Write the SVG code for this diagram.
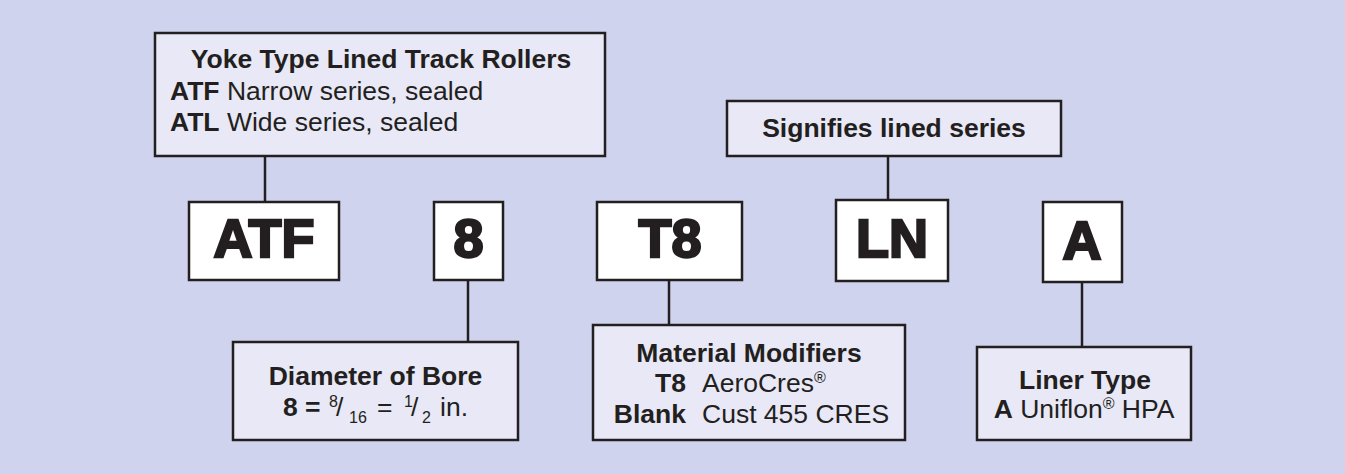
<svg xmlns="http://www.w3.org/2000/svg" width="1345" height="474" viewBox="0 0 1345 474">
<style>
.bg{fill:#cfd3ed}
.desc{fill:#e8e8f6;stroke:#231f20;stroke-width:2.5}
.code{fill:#ffffff;stroke:#231f20;stroke-width:2.5}
.conn line{stroke:#231f20;stroke-width:2.5}
text{font-family:"Liberation Sans",Arial,sans-serif;fill:#231f20;font-size:26.5px}
.b{font-weight:bold}
.big{font-weight:bold;font-size:54px;stroke:#231f20;stroke-width:2.4;text-anchor:middle}
.c{text-anchor:middle}
.r{text-anchor:end}
.sm{font-size:16px}
</style>
<rect class="bg" x="0" y="0" width="1345" height="474"/>
<g id="connectors" class="conn">
<line x1="265" y1="156" x2="265" y2="202"/>
<line x1="468" y1="280" x2="468" y2="342"/>
<line x1="669" y1="280" x2="669" y2="325"/>
<line x1="888" y1="156" x2="888" y2="200"/>
<line x1="1082" y1="282" x2="1082" y2="347"/>
</g>
<g id="yoke-type">
<rect class="desc" x="155" y="33" width="450" height="123"/>
<text class="b c" x="381" y="68">Yoke Type Lined Track Rollers</text>
<text x="170" y="100"><tspan class="b">ATF</tspan> Narrow series, sealed</text>
<text x="170" y="131"><tspan class="b">ATL</tspan> Wide series, sealed</text>
</g>
<g id="signifies">
<rect class="desc" x="727" y="101" width="334" height="55"/>
<text class="b c" x="894" y="137">Signifies lined series</text>
</g>
<g id="code-atf">
<rect class="code" x="189" y="202" width="150" height="78"/>
<text class="big" x="264" y="257">ATF</text>
</g>
<g id="code-8">
<rect class="code" x="434" y="202" width="69" height="78"/>
<text class="big" x="468.5" y="257">8</text>
</g>
<g id="code-t8">
<rect class="code" x="597" y="202" width="145" height="78"/>
<text class="big" x="670" y="257">T8</text>
</g>
<g id="code-ln">
<rect class="code" x="836" y="200" width="112" height="81"/>
<text class="big" x="892" y="257">LN</text>
</g>
<g id="code-a">
<rect class="code" x="1043" y="202" width="79" height="80"/>
<text class="big" x="1082" y="259">A</text>
</g>
<g id="diameter">
<rect class="desc" x="233" y="342" width="285" height="98"/>
<text class="b c" x="375.5" y="385">Diameter of Bore</text>
<text y="416"><tspan class="b" x="283">8 =</tspan><tspan class="sm" x="329" y="407">8</tspan><tspan x="336" y="416">/</tspan><tspan class="sm" x="349" y="423">16</tspan><tspan x="377" y="416">=</tspan><tspan class="sm" x="404" y="407">1</tspan><tspan x="411" y="416">/</tspan><tspan class="sm" x="422" y="423">2</tspan><tspan x="440" y="416">in.</tspan></text>
</g>
<g id="material">
<rect class="desc" x="593" y="325" width="312" height="115"/>
<text class="b c" x="749" y="362">Material Modifiers</text>
<text class="b r" x="686" y="392">T8</text>
<text x="702" y="392">AeroCres<tspan class="sm" dy="-9">®</tspan></text>
<text class="b r" x="686" y="423">Blank</text>
<text x="702" y="423">Cust 455 CRES</text>
</g>
<g id="liner">
<rect class="desc" x="977" y="347" width="214" height="93"/>
<text class="b c" x="1085" y="389">Liner Type</text>
<text class="c" x="1084" y="418"><tspan class="b">A</tspan> Uniflon<tspan class="sm" dy="-9">®</tspan><tspan dy="9"> HPA</tspan></text>
</g>
</svg>
